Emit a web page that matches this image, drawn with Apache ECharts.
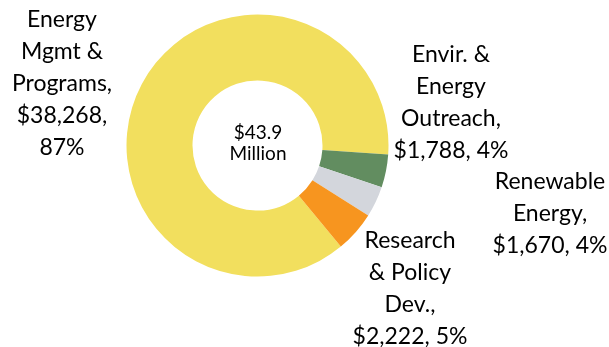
<!DOCTYPE html>
<html>
<head>
<meta charset="utf-8">
<script src="https://cdn.jsdelivr.net/npm/echarts@6/dist/echarts.min.js"></script>
<style>
html,body{margin:0;padding:0;background:#fff;}
#chart{width:609px;height:347px;}
</style>
</head>
<body>
<div id="chart"></div>
<script>
// Data
const categories = ['Energy\nMgmt &\nPrograms', 'Envir. &\nEnergy\nOutreach', 'Renewable\nEnergy', 'Research\n& Policy\nDev.'];
const values = [38268, 1788, 1670, 2222];
const percentSeparators = ['\n', ' ', ' ', ' '];
const centerLabel = '$43.9\nMillion';

// Styling / layout
const colors = ['#F2DF5E', '#628D60', '#D3D6DC', '#F7951F'];
const labelPositions = [[62, 84], [451, 103], [550, 214], [410, 289]];

const chart = echarts.init(document.getElementById('chart'));
chart.setOption({
  animation: false,
  textStyle: { fontFamily: 'Lato' },
  graphic: [{
    type: 'text',
    x: 258, y: 143,
    style: {
      text: centerLabel,
      fill: '#000',
      font: '19px Lato',
      lineHeight: 21,
      textAlign: 'center',
      textVerticalAlign: 'middle'
    }
  }],
  series: [{
    type: 'pie',
    center: [257.5, 145.5],
    radius: [65, 131],
    startAngle: -50.5,
    clockwise: true,
    percentPrecision: 0,
    avoidLabelOverlap: false,
    data: categories.map((c, i) => ({ name: c, value: values[i], itemStyle: { color: colors[i] } })),
    label: {
      show: true,
      position: 'outside',
      color: '#000',
      fontFamily: 'Lato',
      fontSize: 23,
      lineHeight: 32,
      align: 'center',
      formatter: p => p.name + ',\n$' + p.value.toLocaleString('en-US') + ',' + percentSeparators[p.dataIndex] + p.percent + '%'
    },
    labelLine: { show: false },
    labelLayout: p => ({
      x: labelPositions[p.dataIndex][0],
      y: labelPositions[p.dataIndex][1],
      align: 'center',
      verticalAlign: 'middle'
    }),
    emphasis: { disabled: true }
  }]
});
</script>
</body>
</html>
